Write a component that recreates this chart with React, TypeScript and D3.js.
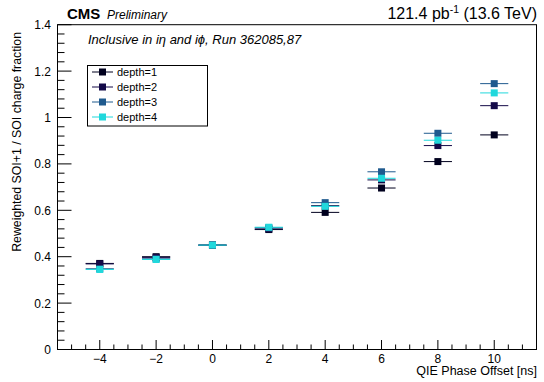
import React from "react";
import * as d3 from "d3";

const offsets = [-4, -2, 0, 2, 4, 6, 8, 10];
const depth1 = [0.371, 0.4, 0.45, 0.517, 0.591, 0.696, 0.81, 0.925];
const depth2 = [0.369, 0.397, 0.45, 0.52, 0.62, 0.731, 0.879, 1.051];
const depth3 = [0.348, 0.391, 0.45, 0.525, 0.633, 0.766, 0.932, 1.146];
const depth4 = [0.345, 0.388, 0.45, 0.527, 0.617, 0.738, 0.902, 1.106];
const seriesNames = ["depth=1", "depth=2", "depth=3", "depth=4"];
const seriesColors = ["#00001e", "#140a48", "#1f5a8e", "#20d8dc"];
const xTicks = [-4, -2, 0, 2, 4, 6, 8, 10];
const yTicks = [0, 0.2, 0.4, 0.6, 0.8, 1, 1.2, 1.4];

const W = 544;
const H = 382;
const FONT = "'Liberation Sans', Arial, Helvetica, sans-serif";

export default function App() {
  const x = d3.scaleLinear().domain([-5.5, 11.5]).range([57.5, 536.5]);
  const y = d3.scaleLinear().domain([0, 1.4]).range([349.5, 24.7]);
  const series = [depth1, depth2, depth3, depth4];
  const xMinor = d3.range(-5.5, 11.5001, 0.5);
  const yMinor = d3.range(0, 1.4001, 0.04);
  const fmtX = (v: number) => (v < 0 ? "\u2212" + Math.abs(v) : String(v));
  const ms = 7;

  return (
    <svg
      width={W}
      height={H}
      style={{ position: "absolute", left: 0, top: 0, background: "#fff" }}
      fontFamily={FONT}
    >
      <rect x={0} y={0} width={W} height={H} fill="#fff" />
      {/* frame */}
      <rect
        x={x(-5.5)}
        y={y(1.4)}
        width={x(11.5) - x(-5.5)}
        height={y(0) - y(1.4)}
        fill="none"
        stroke="#000"
        strokeWidth={1}
      />
      {/* x ticks */}
      {xMinor.map((v, i) => {
        const major = Math.abs(v - Math.round(v)) < 1e-6 && Math.round(v) % 2 === 0;
        return (
          <line
            key={"xm" + i}
            x1={x(v)}
            x2={x(v)}
            y1={y(0)}
            y2={y(0) - (major ? 9.5 : 5)}
            stroke="#000"
          />
        );
      })}
      {xTicks.map((v) => (
        <text key={"xt" + v} x={x(v)} y={362.5} fontSize={12} textAnchor="middle" fill="#000">
          {fmtX(v)}
        </text>
      ))}
      {/* y ticks */}
      {yMinor.map((v, i) => {
        const major = i % 5 === 0;
        return (
          <line
            key={"ym" + i}
            x1={x(-5.5)}
            x2={x(-5.5) + (major ? 14 : 7)}
            y1={y(v)}
            y2={y(v)}
            stroke="#000"
          />
        );
      })}
      {yTicks.map((v) => (
        <text key={"yt" + v} x={51} y={y(v) + 4.5} fontSize={12} textAnchor="end" fill="#000">
          {String(Math.round(v * 10) / 10)}
        </text>
      ))}
      {/* axis titles */}
      <text x={537} y={375} fontSize={12.5} textAnchor="end" fill="#000">
        QIE Phase Offset [ns]
      </text>
      <text
        transform={`translate(21,32) rotate(-90)`}
        fontSize={12.3}
        textAnchor="end"
        fill="#000"
      >
        Reweighted SOI+1 / SOI charge fraction
      </text>
      {/* header */}
      <text x={67} y={19} fontSize={15} fontWeight="bold" fill="#000">
        CMS
      </text>
      <text x={107} y={19} fontSize={12} fontStyle="italic" fill="#000">
        Preliminary
      </text>
      <text x={537} y={19} fontSize={16} textAnchor="end" fill="#000">
        121.4 pb
        <tspan dy={-6} fontSize={10.5}>-1</tspan>
        <tspan dy={6}> (13.6 TeV)</tspan>
      </text>
      <text x={88} y={44} fontSize={13} fontStyle="italic" fill="#000">
        Inclusive in iη and iϕ, Run 362085,87
      </text>
      {/* data */}
      {series.map((vals, si) => (
        <g key={"s" + si}>
          {vals.map((v, i) => (
            <line
              key={"e" + i}
              x1={x(offsets[i] - 0.5)}
              x2={x(offsets[i] + 0.5)}
              y1={y(v)}
              y2={y(v)}
              stroke={seriesColors[si]}
              strokeWidth={1}
            />
          ))}
          {vals.map((v, i) => (
            <rect
              key={"m" + i}
              x={x(offsets[i]) - ms / 2}
              y={y(v) - ms / 2}
              width={ms}
              height={ms}
              fill={seriesColors[si]}
            />
          ))}
        </g>
      ))}
      {/* legend */}
      <rect x={87.5} y={65.5} width={120} height={60.5} fill="#fff" stroke="#000" strokeWidth={1} />
      {seriesNames.map((n, i) => {
        const ly = 72 + i * 15;
        return (
          <g key={"l" + i}>
            <line x1={92} x2={113} y1={ly} y2={ly} stroke={seriesColors[i]} />
            <rect x={102.5 - ms / 2} y={ly - ms / 2} width={ms} height={ms} fill={seriesColors[i]} />
            <text x={117} y={ly + 4} fontSize={11} fill="#000">
              {n}
            </text>
          </g>
        );
      })}
    </svg>
  );
}
